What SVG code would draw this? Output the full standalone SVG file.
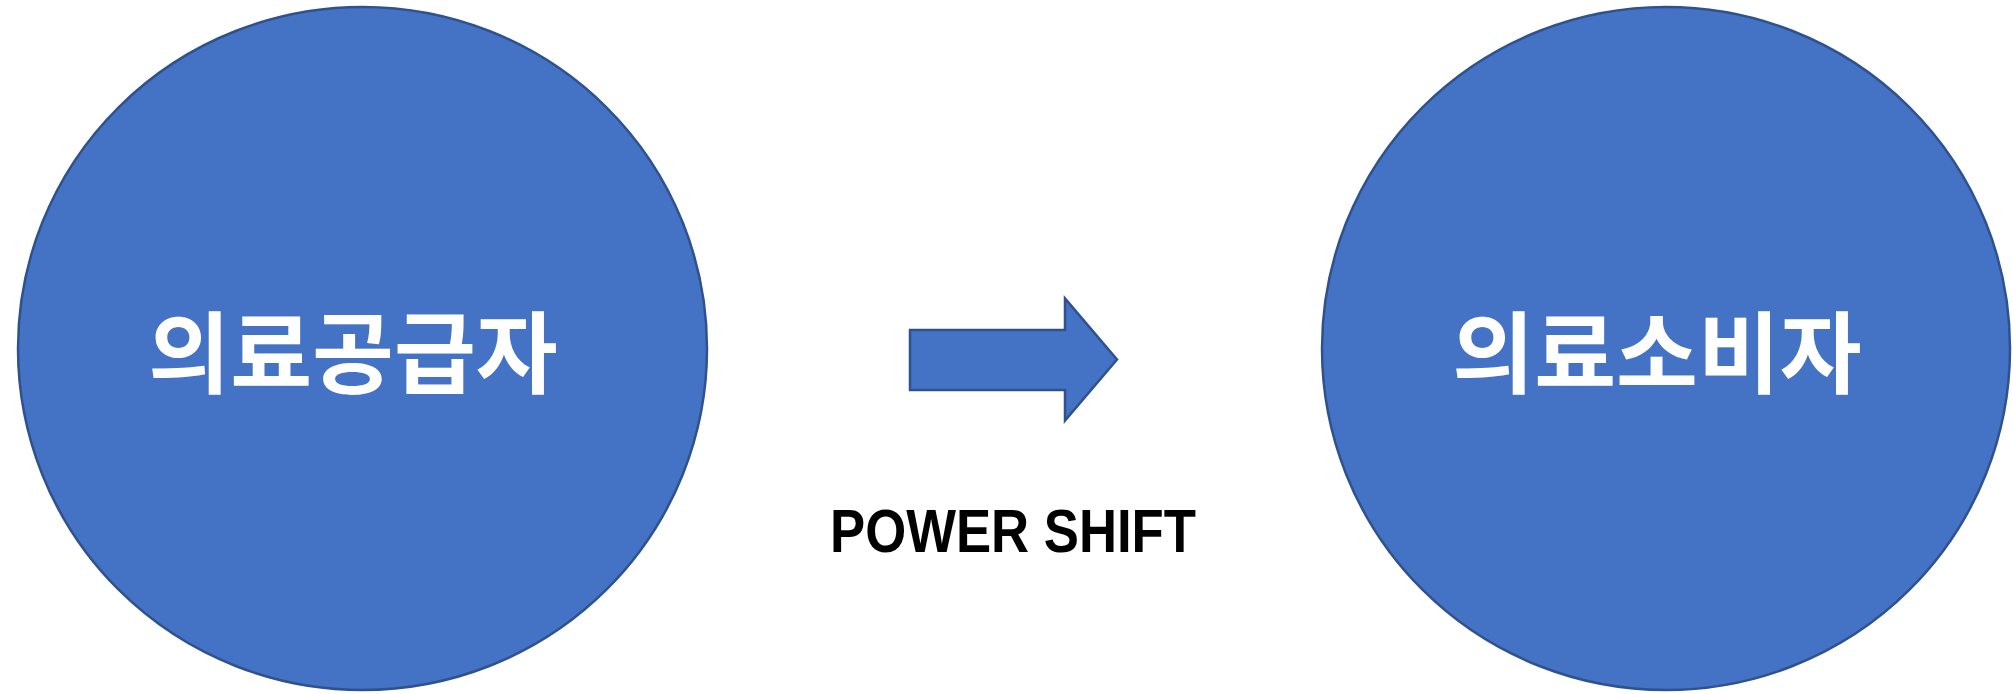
<svg xmlns="http://www.w3.org/2000/svg" width="2013" height="694" viewBox="0 0 2013 694">
<style>
.node{fill:#4472C4;stroke:#2F528F;stroke-width:2.5}
.kr{font-family:"Noto Sans CJK KR","Noto Sans",sans-serif;font-size:89px;font-weight:bold;fill:#FFFFFF;text-anchor:middle}
.lbl{font-family:"Liberation Sans",Arial,sans-serif;font-weight:bold;font-size:61px;fill:#000000}
</style>
<rect width="2013" height="694" fill="#FFFFFF"/>
<g id="supplier">
<ellipse class="node" cx="362.5" cy="348.5" rx="344.5" ry="341.5"/>
<text class="kr" x="353" y="386">의료공급자</text>
</g>
<g id="consumer">
<ellipse class="node" cx="1666" cy="348.5" rx="344" ry="341.5"/>
<text class="kr" x="1657" y="386">의료소비자</text>
</g>
<g id="connectors">
<polygon class="node" points="910,330 1065,330 1065,298.5 1117,359.5 1065,420.5 1065,390 910,390"/>
</g>
<g id="label">
<text class="lbl" x="830" y="551.5" textLength="366" lengthAdjust="spacingAndGlyphs">POWER SHIFT</text>
</g>
</svg>
